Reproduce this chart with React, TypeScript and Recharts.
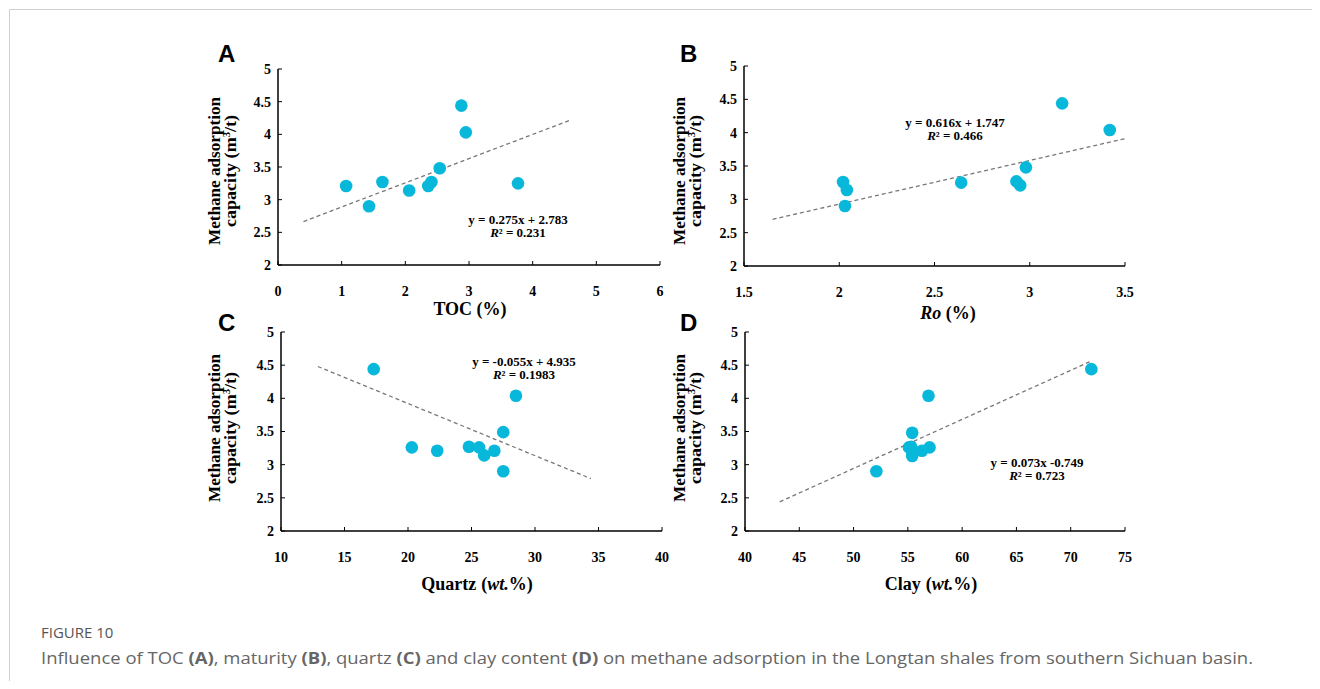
import React from 'react';
import { ScatterChart, Scatter, XAxis, YAxis, ReferenceLine } from 'recharts';

// ---------- data ----------
const yTicks = [2, 2.5, 3, 3.5, 4, 4.5, 5];

const tocTicks = [0, 1, 2, 3, 4, 5, 6];
const tocX = [1.07, 1.43, 1.64, 2.06, 2.36, 2.41, 2.54, 2.88, 2.95, 3.77];
const tocY = [3.21, 2.9, 3.27, 3.14, 3.21, 3.27, 3.48, 4.44, 4.03, 3.25];
const tocTrend = [{ x: 0.4, y: 2.665 }, { x: 4.57, y: 4.21 }];

const roTicks = [1.5, 2, 2.5, 3, 3.5];
const roX = [2.02, 2.04, 2.03, 2.64, 2.93, 2.95, 2.98, 3.17, 3.42];
const roY = [3.26, 3.14, 2.9, 3.25, 3.27, 3.21, 3.48, 4.44, 4.04];
const roTrend = [{ x: 1.65, y: 2.7 }, { x: 3.5, y: 3.91 }];

const quartzTicks = [10, 15, 20, 25, 30, 35, 40];
const quartzX = [17.3, 20.3, 22.3, 24.8, 25.6, 26.0, 26.8, 27.5, 27.5, 28.5];
const quartzY = [4.44, 3.26, 3.21, 3.27, 3.26, 3.14, 3.21, 3.49, 2.9, 4.04];
const quartzTrend = [{ x: 12.9, y: 4.48 }, { x: 34.4, y: 2.79 }];

const clayTicks = [40, 45, 50, 55, 60, 65, 70, 75];
const clayX = [52.1, 55.1, 55.4, 55.3, 55.4, 55.4, 56.3, 57.0, 56.9, 71.9];
const clayY = [2.9, 3.26, 3.48, 3.27, 3.2, 3.13, 3.21, 3.26, 4.04, 4.44];
const clayTrend = [{ x: 43.2, y: 2.44 }, { x: 72.0, y: 4.57 }];

// ---------- styles ----------
const serif = '"Liberation Serif", "Times New Roman", serif';
const sans = '"Liberation Sans", Arial, sans-serif';
const capFont = '"Open Sans", "Noto Sans", sans-serif';
const dotColor = '#08B8DA';

const zip = (xs: number[], ys: number[]) => xs.map((x, i) => ({ x, y: ys[i] }));

type Plot = { left: number; right: number; top: number; bottom: number };

const Dot = (props: any) => {
  const { cx, cy } = props;
  if (cx == null || cy == null) return null;
  return <circle cx={cx} cy={cy} r={6.3} fill={dotColor} />;
};

function Panel({ plot, xTicks, xs, ys, trend }: { plot: Plot; xTicks: number[]; xs: number[]; ys: number[]; trend: { x: number; y: number }[] }) {
  const W = plot.right - plot.left + 70;
  const H = plot.bottom - plot.top + 40;
  const tickStyle = { fontFamily: serif, fontWeight: 700, fontSize: 14, fill: '#000' };
  return (
    <div style={{ position: 'absolute', left: plot.left - 60, top: plot.top - 10 }}>
      <ScatterChart width={W} height={H} margin={{ top: 10, right: 10, left: 0, bottom: 0 }}>
        <XAxis
          type="number"
          dataKey="x"
          domain={[xTicks[0], xTicks[xTicks.length - 1]]}
          ticks={xTicks}
          interval={0}
          allowDataOverflow
          height={40}
          axisLine={{ stroke: '#000', strokeWidth: 1.5 }}
          tickLine={{ stroke: '#000', strokeWidth: 1 }}
          tickSize={-4}
          tickMargin={25}
          tick={tickStyle}
        />
        <YAxis
          type="number"
          dataKey="y"
          domain={[2, 5]}
          ticks={yTicks}
          interval={0}
          allowDataOverflow
          width={60}
          axisLine={{ stroke: '#000', strokeWidth: 1.5 }}
          tickLine={{ stroke: '#000', strokeWidth: 1 }}
          tickSize={-4}
          tickMargin={11}
          tick={tickStyle}
        />
        <ReferenceLine
          segment={trend}
          stroke="#777"
          strokeWidth={1.3}
          strokeDasharray="4 3"
          ifOverflow="visible"
        />
        <Scatter data={zip(xs, ys)} fill={dotColor} shape={Dot} isAnimationActive={false} />
      </ScatterChart>
    </div>
  );
}

const YTitle = ({ x1, x2, cy }: { x1: number; x2: number; cy: number }) => (
  <g fontFamily={serif} fontWeight={700} fontSize={17} fill="#000">
    <text transform={`translate(${x1},${cy}) rotate(-90)`} textAnchor="middle" textLength={148} lengthAdjust="spacingAndGlyphs">
      Methane adsorption
    </text>
    <text transform={`translate(${x2},${cy}) rotate(-90)`} textAnchor="middle" textLength={112} lengthAdjust="spacingAndGlyphs">
      capacity (m<tspan dy={-6} fontSize={10}>3</tspan><tspan dy={6}>/t)</tspan>
    </text>
  </g>
);

const Equation = ({ cx, y, line1, r2 }: { cx: number; y: number; line1: string; r2: string }) => (
  <g fontFamily={serif} fontWeight={700} fontSize={13} fill="#000" textAnchor="middle">
    <text x={cx} y={y}>{line1}</text>
    <text x={cx} y={y + 13}>
      <tspan fontStyle="italic">R</tspan>² = {r2}
    </text>
  </g>
);

export default function App() {
  const pA: Plot = { left: 278, right: 660, top: 69, bottom: 275 };
  const pB: Plot = { left: 744, right: 1125, top: 66, bottom: 276 };
  const pC: Plot = { left: 281, right: 662, top: 332, bottom: 541 };
  const pD: Plot = { left: 745, right: 1125, top: 332, bottom: 541 };
  return (
    <div style={{ position: 'relative', width: 1320, height: 689, margin: -8, background: '#fff', overflow: 'hidden' }}>
      <Panel plot={pA} xTicks={tocTicks} xs={tocX} ys={tocY} trend={tocTrend} />
      <Panel plot={pB} xTicks={roTicks} xs={roX} ys={roY} trend={roTrend} />
      <Panel plot={pC} xTicks={quartzTicks} xs={quartzX} ys={quartzY} trend={quartzTrend} />
      <Panel plot={pD} xTicks={clayTicks} xs={clayX} ys={clayY} trend={clayTrend} />
      <svg width={1320} height={689} style={{ position: 'absolute', left: 0, top: 0, pointerEvents: 'none' }}>
        <line x1={9.5} y1={9.5} x2={1320} y2={9.5} stroke="#cfcfcf" strokeWidth={1} />
        <line x1={9.5} y1={9.5} x2={9.5} y2={689} stroke="#cfcfcf" strokeWidth={1} />

        <g fontFamily={sans} fontWeight={700} fontSize={24} fill="#000">
          <text x={218} y={62}>A</text>
          <text x={680} y={62}>B</text>
          <text x={218} y={331}>C</text>
          <text x={680} y={331}>D</text>
        </g>

        <YTitle x1={220} x2={236} cy={171} />
        <YTitle x1={685} x2={701} cy={171} />
        <YTitle x1={220} x2={236} cy={428} />
        <YTitle x1={685} x2={701} cy={428} />

        <g fontFamily={serif} fontWeight={700} fontSize={18} fill="#000" textAnchor="middle">
          <text x={470} y={315}>TOC (%)</text>
          <text x={948} y={319}><tspan fontStyle="italic">Ro</tspan> (%)</text>
          <text x={477} y={590}>Quartz<tspan dx={5}>(</tspan><tspan fontStyle="italic">wt.</tspan>%)</text>
          <text x={931} y={590}>Clay<tspan dx={5}>(</tspan><tspan fontStyle="italic">wt.</tspan>%)</text>
        </g>

        <Equation cx={518} y={224} line1="y = 0.275x + 2.783" r2="0.231" />
        <Equation cx={955} y={127} line1="y = 0.616x + 1.747" r2="0.466" />
        <Equation cx={524} y={366} line1="y = -0.055x + 4.935" r2="0.1983" />
        <Equation cx={1037} y={467} line1="y = 0.073x -0.749" r2="0.723" />

        <text x={41} y={638} fontFamily={capFont} fontSize={15} fill="#555">FIGURE 10</text>
        <text x={41} y={664} fontFamily={capFont} fontSize={16} fill="#666" textLength={1212} lengthAdjust="spacingAndGlyphs">
          Influence of TOC <tspan fontWeight={700}>(A)</tspan>, maturity <tspan fontWeight={700}>(B)</tspan>, quartz <tspan fontWeight={700}>(C)</tspan> and clay content <tspan fontWeight={700}>(D)</tspan> on methane adsorption in the Longtan shales from southern Sichuan basin.
        </text>
      </svg>
    </div>
  );
}
